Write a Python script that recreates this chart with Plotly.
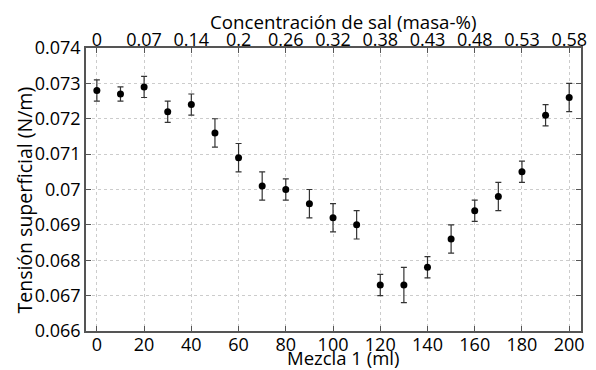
import plotly.graph_objects as go

mezcla = [0, 10, 20, 30, 40, 50, 60, 70, 80, 90, 100, 110, 120, 130, 140, 150, 160, 170, 180, 190, 200]
tension = [0.0728, 0.0727, 0.0729, 0.0722, 0.0724, 0.0716, 0.0709, 0.0701, 0.0700, 0.0696, 0.0692,
           0.0690, 0.0673, 0.0673, 0.0678, 0.0686, 0.0694, 0.0698, 0.0705, 0.0721, 0.0726]
error = [0.0003, 0.0002, 0.0003, 0.0003, 0.0003, 0.0004, 0.0004, 0.0004, 0.0003, 0.0004, 0.0004,
         0.0004, 0.0003, 0.0005, 0.0003, 0.0004, 0.0003, 0.0004, 0.0003, 0.0003, 0.0004]

bottom_ticks = [0, 20, 40, 60, 80, 100, 120, 140, 160, 180, 200]
top_labels = ["0", "0.07", "0.14", "0.2", "0.26", "0.32", "0.38", "0.43", "0.48", "0.53", "0.58"]
y_ticks = [0.066, 0.067, 0.068, 0.069, 0.07, 0.071, 0.072, 0.073, 0.074]
y_labels = ["0.066", "0.067", "0.068", "0.069", "0.07", "0.071", "0.072", "0.073", "0.074"]

FONT = "Open Sans"
xr = [-4.6, 205]

fig = go.Figure()
fig.add_trace(go.Scatter(
    x=mezcla, y=tension, mode="markers",
    marker=dict(color="black", size=7),
    error_y=dict(type="data", array=error, color="#333333", thickness=1.2, width=3),
    showlegend=False,
))

axis_common = dict(showline=True, linecolor="#555555", linewidth=1.5,
                   ticks="inside", ticklen=5, tickcolor="#555555",
                   tickfont=dict(family=FONT, size=18, color="black"))

fig.update_layout(
    width=596, height=370,
    margin=dict(l=86, r=9, t=48, b=39),
    paper_bgcolor="white", plot_bgcolor="white",
    xaxis=dict(range=xr, tickvals=bottom_ticks, ticktext=[str(v) for v in bottom_ticks],
               showgrid=True, gridcolor="#cccccc", griddash="dot", gridwidth=1,
               zeroline=False, mirror=False, ticklabelstandoff=-3, **axis_common),
    xaxis2=dict(range=xr, overlaying="x", side="top", tickvals=bottom_ticks, ticktext=top_labels,
                showgrid=False, zeroline=False, ticklabelstandoff=-7, **axis_common),
    yaxis=dict(range=[0.066, 0.074], tickvals=y_ticks, ticktext=y_labels,
               showgrid=True, gridcolor="#cccccc", griddash="dot", gridwidth=1,
               zeroline=False, mirror="ticks", ticklabelstandoff=0, **axis_common),
    annotations=[
        dict(text="Concentración de sal (masa-%)", xref="paper", yref="paper",
             x=0.52, y=1, yshift=12, showarrow=False, xanchor="center", yanchor="bottom",
             font=dict(family=FONT, size=18.7, color="black")),
        dict(text="Mezcla 1 (ml)", xref="paper", yref="paper",
             x=0.52, y=0, yshift=-12, showarrow=False, xanchor="center", yanchor="top",
             font=dict(family=FONT, size=18.5, color="black")),
        dict(text="Tensión superficial (N/m)", xref="paper", yref="paper",
             x=0, xshift=-62, y=0.5, yshift=-11, showarrow=False, xanchor="center", yanchor="middle",
             textangle=-90, font=dict(family=FONT, size=19.5, color="black")),
    ],
)
# invisible trace so the top axis is drawn
fig.add_trace(go.Scatter(x=[0], y=[0.07], xaxis="x2", mode="markers",
                         marker=dict(opacity=0), showlegend=False, hoverinfo="skip"))

fig.write_html("out.html")
